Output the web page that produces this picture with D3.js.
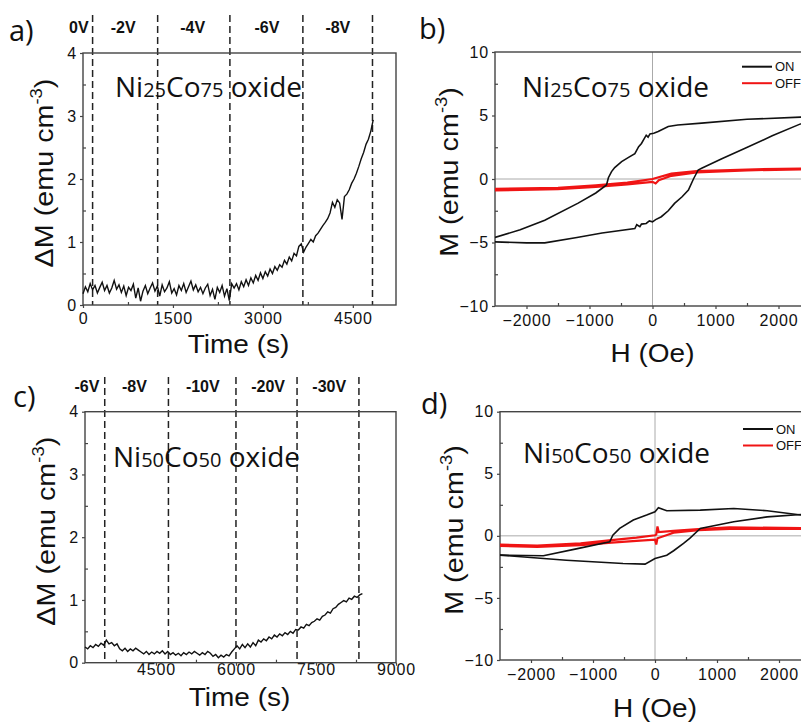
<!DOCTYPE html>
<html>
<head>
<meta charset="utf-8">
<script src="https://cdn.jsdelivr.net/npm/d3@7"></script>
<style>
  body { margin: 0; background: #fff; }
  svg { display: block; }
  text { white-space: pre; }
</style>
</head>
<body>
<div id="chart"></div>
<script>
// ---------- panel a: Ni25Co75, ΔM vs time (one sample every 40 s from 0 s)
const aStart = 0, aStep = 40;
const aDeltaM = [
  0.18, 0.29, 0.21, 0.34, 0.24, 0.31, 0.19, 0.28, 0.36, 0.23,
  0.31, 0.19, 0.27, 0.39, 0.25, 0.32, 0.20, 0.30, 0.15, 0.28,
  0.23, 0.33, 0.11, 0.27, 0.06, 0.22, 0.31, 0.18, 0.27, 0.35,
  0.22, 0.30, 0.14, 0.32, 0.21, 0.27, 0.37, 0.19, 0.26, 0.16,
  0.31, 0.23, 0.34, 0.20, 0.29, 0.38, 0.24, 0.32, 0.21, 0.28,
  0.18, 0.27, 0.33, 0.15, 0.25, 0.09, 0.28, 0.20, 0.31, 0.14,
  0.26, 0.07, 0.34,
  0.27, 0.34, 0.24, 0.37, 0.29, 0.40, 0.31, 0.43, 0.35, 0.47,
  0.39, 0.51, 0.42, 0.53, 0.46, 0.57, 0.50, 0.61, 0.55, 0.64,
  0.60, 0.71, 0.65, 0.76, 0.70, 0.82, 0.78, 0.93, 0.97, 0.84,
  0.92, 0.98, 1.04, 1.00, 1.10, 1.14, 1.20, 1.26, 1.31, 1.37,
  1.46, 1.63, 1.55, 1.67, 1.62, 1.36, 1.72, 1.76, 1.83, 1.93,
  2.00, 2.09, 2.20, 2.32, 2.42, 2.55, 2.63, 2.76, 2.94
];
const aSwitchTimes = [160, 1245, 2450, 3667, 4828];
const aVoltTimes = [-70, 670, 1830, 3067, 4250];
const aVoltLabels = ["0V", "-2V", "-4V", "-6V", "-8V"];

// ---------- panel c: Ni50Co50, ΔM vs time (one sample every 50 s from 3170 s)
const cStart = 3170, cStep = 50;
const cDeltaM = [
  0.25, 0.22, 0.27, 0.24, 0.29, 0.26, 0.31, 0.28, 0.36, 0.30,
  0.32, 0.27, 0.30, 0.22, 0.19, 0.23, 0.18, 0.22, 0.19, 0.23,
  0.20, 0.17, 0.14, 0.18, 0.13, 0.17, 0.14, 0.18, 0.15, 0.19,
  0.14, 0.18, 0.13, 0.16, 0.12, 0.15, 0.11, 0.16, 0.13, 0.17,
  0.14, 0.18, 0.15, 0.12, 0.16, 0.13, 0.18, 0.15, 0.10, 0.13,
  0.08, 0.12, 0.09, 0.13, 0.11, 0.17, 0.22, 0.27, 0.22, 0.29,
  0.24, 0.30, 0.25, 0.32, 0.27, 0.36, 0.33, 0.38, 0.35, 0.41,
  0.38, 0.44, 0.41, 0.46, 0.43, 0.48, 0.45, 0.50, 0.47, 0.53,
  0.52, 0.57, 0.55, 0.61, 0.59, 0.64, 0.66, 0.70, 0.68, 0.74,
  0.76, 0.81, 0.79, 0.86, 0.88, 0.93, 0.96, 0.99, 0.97, 1.03,
  1.01, 1.06, 1.04, 1.08, 1.10
];
const cSwitchTimes = [3540, 4734, 6000, 7145, 8305];
const cVoltTimes = [3206, 4097, 5378, 6603, 7748];
const cVoltLabels = ["-6V", "-8V", "-10V", "-20V", "-30V"];

// ---------- panel b: Ni25Co75 loops [H (Oe), M (emu cm-3)]
const bOnDown = [
  [2500, 4.9], [2350, 4.87], [1500, 4.7], [780, 4.4], [400, 4.25], [250, 4.13],
  [90, 3.74], [20, 3.6], [-40, 3.55], [-70, 3.3], [-100, 3.45], [-175, 2.8],
  [-220, 2.55], [-280, 2.0], [-380, 1.7], [-490, 1.37], [-600, 0.9], [-650, 0.58],
  [-700, 0.1], [-730, -0.47], [-900, -1.1], [-1180, -1.9], [-1710, -3.24],
  [-2100, -4.0], [-2500, -4.6]
];
const bOnUp = [
  [-2500, -4.95], [-2000, -5.03], [-1710, -5.03], [-1200, -4.6], [-800, -4.25],
  [-280, -3.9], [-250, -3.6], [-200, -3.75], [-175, -3.55], [-100, -3.5],
  [-50, -3.3], [0, -3.37], [50, -3.2], [140, -2.97], [250, -2.5], [350, -1.92],
  [470, -1.4], [570, -0.87], [650, 0], [725, 0.71], [780, 0.84], [1100, 1.6],
  [1470, 2.42], [1900, 3.4], [2350, 4.34], [2500, 4.6]
];
const bOff = [
  [-2500, -0.9], [-1500, -0.8], [-900, -0.62], [-400, -0.42], [0, -0.22],
  [50, -0.35], [100, -0.1], [300, 0.25], [700, 0.52], [1500, 0.68], [2500, 0.78],
  [2500, 0.84], [1500, 0.75], [700, 0.63], [300, 0.42], [0, 0.0], [-400, -0.28],
  [-900, -0.5], [-1500, -0.7], [-2500, -0.78]
];

// ---------- panel d: Ni50Co50 loops
const dOnDown = [
  [2500, 1.65], [2370, 1.67], [1810, 2.02], [1270, 2.2], [730, 2.07], [190, 2.02],
  [55, 2.26], [0, 1.94], [-135, 1.67], [-350, 1.27], [-570, 0.6], [-680, 0.06],
  [-730, -0.48], [-1270, -1.05], [-1800, -1.6], [-2500, -1.55]
];
const dOnUp = [
  [-2500, -1.55], [-1430, -1.96], [-515, -2.23], [-160, -2.28], [0, -1.83],
  [190, -1.56], [300, -1.2], [460, -0.6], [560, -0.2], [730, 0.6], [1270, 1.13],
  [1810, 1.53], [2370, 1.72], [2500, 1.72]
];
const dOff = [
  [-2500, -0.8], [-1900, -0.9], [-1200, -0.75], [-700, -0.55], [-300, -0.4],
  [0, -0.3], [20, -0.7], [40, -0.2], [300, 0.25], [700, 0.45], [1200, 0.55],
  [2500, 0.55], [2500, 0.62], [1200, 0.68], [700, 0.55], [300, 0.4], [60, 0.3],
  [40, 0.75], [20, 0.1], [0, 0.05], [-300, -0.15], [-700, -0.35], [-1200, -0.6],
  [-1900, -0.78], [-2500, -0.7]
];

const legendNames = ["ON", "OFF"];
const legendColors = ["#111", "#f01414"];

const tickFont = "Arial, 'Liberation Sans', sans-serif";
const titleFont = "'Open Sans', 'DejaVu Sans', sans-serif";

const svg = d3.select("#chart").append("svg")
  .attr("width", 801)
  .attr("height", 724)
  .style("background", "#fff");

// axis helper: major ticks outward with labels, minor ticks inward
function drawAxes(g, x, y, o) {
  const fr = "#444";
  const fmt = d3.format("d");
  const bx = g.append("g")
    .attr("transform", `translate(0,${o.bottom})`)
    .call(d3.axisBottom(x).tickValues(o.xTicks).tickFormat(fmt)
      .tickSize(3).tickSizeOuter(0).tickPadding(o.xPad));
  const by = g.append("g")
    .attr("transform", `translate(${o.left},0)`)
    .call(d3.axisLeft(y).tickValues(o.yTicks).tickFormat(fmt)
      .tickSize(3).tickSizeOuter(0).tickPadding(3));
  g.append("g")
    .attr("transform", `translate(0,${o.bottom})`)
    .call(d3.axisBottom(x).tickValues(o.xMinor).tickSize(-3).tickFormat(""));
  g.append("g")
    .attr("transform", `translate(${o.left},0)`)
    .call(d3.axisLeft(y).tickValues(o.yMinor).tickSize(-3).tickFormat(""));
  g.selectAll(".domain").remove();
  g.selectAll(".tick line").attr("stroke", fr).attr("stroke-width", 1.2);
  [bx, by].forEach(a => a.selectAll("text")
    .attr("font-size", 16)
    .attr("letter-spacing", 0.8)
    .attr("font-family", tickFont)
    .attr("fill", "#111"));

  g.append("rect")
    .attr("x", o.left).attr("y", o.top)
    .attr("width", o.right - o.left).attr("height", o.bottom - o.top)
    .attr("fill", "none").attr("stroke", fr).attr("stroke-width", 1.4);
}

function sampleTitle(g, x, yBase, a, b) {
  const t = g.append("text")
    .attr("x", x).attr("y", yBase)
    .attr("font-family", titleFont).attr("font-size", 28).attr("fill", "#111");
  t.append("tspan").text("Ni");
  t.append("tspan").attr("font-size", 20).text(a);
  t.append("tspan").text("Co");
  t.append("tspan").attr("font-size", 20).text(b);
  t.append("tspan").text(" oxide");
}

// the source figure's axis titles are slightly stretched sideways
const stretch = 1.12;

function yTitle(g, xBase, yMid, main) {
  const t = g.append("text")
    .attr("transform", `translate(${xBase},${yMid}) rotate(-90) scale(${stretch + 0.03},1)`)
    .attr("text-anchor", "middle")
    .attr("font-family", tickFont).attr("font-size", 25)
    .attr("fill", "#111");
  t.append("tspan").text(main + " cm");
  t.append("tspan").attr("font-size", 16).attr("dy", -11).text("-3");
  t.append("tspan").attr("dy", 11).text(")");
}

function xTitle(g, xMid, yBase, label) {
  g.append("text")
    .attr("transform", `translate(${xMid},${yBase}) scale(${stretch},1)`)
    .attr("text-anchor", "middle")
    .attr("font-family", tickFont).attr("font-size", 25)
    .attr("fill", "#111")
    .text(label);
}

function panelLetter(g, x, y, s) {
  g.append("text").attr("x", x).attr("y", y)
    .attr("font-family", titleFont).attr("font-size", 29).attr("fill", "#111")
    .text(s);
}

// ---------- ΔM vs time panels
function timePanel(o) {
  const g = svg.append("g");
  const x = d3.scaleLinear().domain(o.xDomain).range([o.left, o.right]);
  const y = d3.scaleLinear().domain([0, 4]).range([o.bottom, o.top]);

  // voltage step boundaries
  g.selectAll(".step")
    .data(o.switches)
    .join("line")
    .attr("class", "step")
    .attr("x1", d => x(d)).attr("x2", d => x(d))
    .attr("y1", o.dashTop).attr("y2", o.bottom)
    .attr("stroke", "#222").attr("stroke-width", 1.5)
    .attr("stroke-dasharray", "7,4");

  g.selectAll(".volt")
    .data(o.voltLabels)
    .join("text")
    .attr("class", "volt")
    .attr("x", (d, i) => x(o.voltTimes[i]))
    .attr("y", o.voltY)
    .attr("text-anchor", "middle")
    .attr("font-family", tickFont).attr("font-weight", "bold")
    .attr("font-size", 16).attr("fill", "#111")
    .text(d => d);

  drawAxes(g, x, y, o);

  const line = d3.line()
    .x((d, i) => x(o.start + i * o.step))
    .y(d => y(d));
  g.append("path")
    .datum(o.values)
    .attr("d", line)
    .attr("fill", "none").attr("stroke", "#111").attr("stroke-width", 1.4);

  sampleTitle(g, o.titleX, o.titleY, o.sub[0], o.sub[1]);
  yTitle(g, o.left - 30, (o.top + o.bottom) / 2 - 6, "ΔM (emu");
  xTitle(g, (o.left + o.right) / 2 - 1, o.xTitleY, "Time (s)");
  panelLetter(g, o.letterX, o.letterY, o.letter);
}

// ---------- M(H) loop panels
function loopPanel(o) {
  const g = svg.append("g");
  const x = d3.scaleLinear().domain([-2500, 2500]).range([o.left, o.right]);
  const y = d3.scaleLinear().domain([-10, 10]).range([o.bottom, o.top]);

  const clipId = "clip-" + o.letter[0];
  svg.append("clipPath").attr("id", clipId)
    .append("rect")
    .attr("x", o.left).attr("y", o.top)
    .attr("width", o.right - o.left).attr("height", o.bottom - o.top);

  // zero lines
  g.append("line")
    .attr("x1", x(0)).attr("x2", x(0)).attr("y1", o.top).attr("y2", o.bottom)
    .attr("stroke", "#aaa").attr("stroke-width", 1);
  g.append("line")
    .attr("x1", o.left).attr("x2", o.right).attr("y1", y(0)).attr("y2", y(0))
    .attr("stroke", "#aaa").attr("stroke-width", 1);

  drawAxes(g, x, y, o);

  const line = d3.line().x(d => x(d[0])).y(d => y(d[1]));
  const plot = g.append("g").attr("clip-path", `url(#${clipId})`);
  plot.append("path").datum(o.off).attr("d", line)
    .attr("fill", "none").attr("stroke", legendColors[1]).attr("stroke-width", 2.2);
  [o.onDown, o.onUp].forEach(s => {
    plot.append("path").datum(s).attr("d", line)
      .attr("fill", "none").attr("stroke", legendColors[0]).attr("stroke-width", 1.6);
  });

  // legend
  const lg = g.append("g");
  legendNames.forEach((name, i) => {
    const ly = o.legendY + i * 16.5;
    lg.append("line")
      .attr("x1", o.legendX).attr("x2", o.legendX + 30)
      .attr("y1", ly).attr("y2", ly)
      .attr("stroke", legendColors[i]).attr("stroke-width", 2);
    lg.append("text")
      .attr("x", o.legendX + 33).attr("y", ly + 4.5)
      .attr("font-family", tickFont).attr("font-size", 13).attr("fill", "#111")
      .text(name);
  });

  sampleTitle(g, o.titleX, o.titleY, o.sub[0], o.sub[1]);
  yTitle(g, o.left - 37, o.yTitleMid, "M (emu");
  xTitle(g, x(0), o.xTitleY, "H (Oe)");
  panelLetter(g, o.letterX, o.letterY, o.letter);
}

timePanel({
  letter: "a)", letterX: 9, letterY: 41,
  left: 83, right: 396, top: 53, bottom: 305,
  xDomain: [0, 5220], xTicks: [0, 1500, 3000, 4500], xMinor: [750, 2250, 3750],
  yTicks: [0, 1, 2, 3, 4], yMinor: [0.5, 1.5, 2.5, 3.5], xPad: 5,
  values: aDeltaM, start: aStart, step: aStep,
  switches: aSwitchTimes, voltTimes: aVoltTimes, voltLabels: aVoltLabels,
  dashTop: 15, voltY: 33,
  sub: ["25", "75"], titleX: 115, titleY: 97, xTitleY: 353
});

timePanel({
  letter: "c)", letterX: 13, letterY: 407,
  left: 85, right: 396, top: 411.7, bottom: 662.7,
  xDomain: [3170, 9000], xTicks: [4500, 6000, 7500, 9000], xMinor: [3750, 5250, 6750, 8250],
  yTicks: [0, 1, 2, 3, 4], yMinor: [0.5, 1.5, 2.5, 3.5], xPad: -2,
  values: cDeltaM, start: cStart, step: cStep,
  switches: cSwitchTimes, voltTimes: cVoltTimes, voltLabels: cVoltLabels,
  dashTop: 377, voltY: 392,
  sub: ["50", "50"], titleX: 113, titleY: 467, xTitleY: 706
});

loopPanel({
  letter: "b)", letterX: 419, letterY: 39,
  left: 495, right: 810, top: 52, bottom: 306,
  xTicks: [-2000, -1000, 0, 1000, 2000], xMinor: [-1500, -500, 500, 1500],
  yTicks: [-10, -5, 0, 5, 10], yMinor: [-7.5, -2.5, 2.5, 7.5], xPad: 6,
  onDown: bOnDown, onUp: bOnUp, off: bOff,
  legendX: 742, legendY: 66.7,
  sub: ["25", "75"], titleX: 522, titleY: 97, yTitleMid: 172, xTitleY: 362
});

loopPanel({
  letter: "d)", letterX: 421, letterY: 414,
  left: 500, right: 810, top: 411.7, bottom: 660,
  xTicks: [-2000, -1000, 0, 1000, 2000], xMinor: [-1500, -500, 500, 1500],
  yTicks: [-10, -5, 0, 5, 10], yMinor: [-7.5, -2.5, 2.5, 7.5], xPad: 6,
  onDown: dOnDown, onUp: dOnUp, off: dOff,
  legendX: 743, legendY: 429,
  sub: ["50", "50"], titleX: 523, titleY: 463, yTitleMid: 530, xTitleY: 717
});
</script>
</body>
</html>
